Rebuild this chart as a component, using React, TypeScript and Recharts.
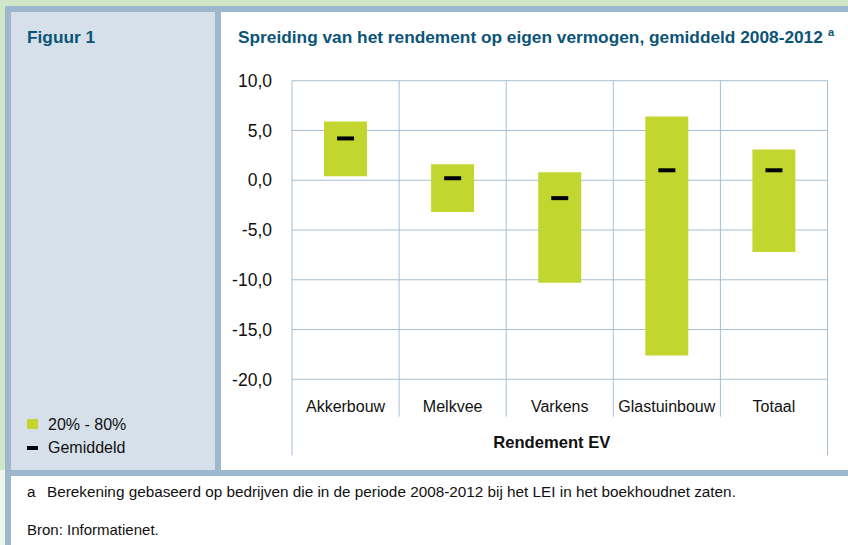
import React from 'react';
import { ComposedChart, Bar, Scatter, XAxis, YAxis, CartesianGrid } from 'recharts';

const categories = ['Akkerbouw', 'Melkvee', 'Varkens', 'Glastuinbouw', 'Totaal'];
const low20 = [0.4, -3.2, -10.3, -17.6, -7.2];
const high80 = [5.9, 1.6, 0.8, 6.4, 3.1];
const means = [4.2, 0.2, -1.8, 1.0, 1.0];
const yTicks = [-20, -15, -10, -5, 0, 5, 10];

const data = categories.map((name, i) => ({
  name,
  range: [low20[i], high80[i]],
  mean: means[i],
}));

const FONT = "'Liberation Sans', Arial, Helvetica, sans-serif";
const TITLE_COLOR = '#0b5477';
const BAR_COLOR = '#c3d62f';
const GRID_COLOR = '#a5bed3';
const BORDER = '#9db7cd';
const PANEL = '#d6e0ea';

const CategoryTick = (props: any) => {
  const { x, y, payload, index, width } = props;
  const n = categories.length;
  const half = (width ?? 535) / n / 2;
  const last = index === n - 1;
  return (
    <g>
      <line x1={x - half} x2={x - half} y1={y} y2={y + (index === 0 ? 76 : 37.4)} stroke={GRID_COLOR} strokeWidth={1} />
      {last && <line x1={x + half} x2={x + half} y1={y} y2={y + 76} stroke={GRID_COLOR} strokeWidth={1} />}
      <text x={x} y={y + 32.2} textAnchor="middle" fontFamily={FONT} fontSize={16} fill="#111">
        {payload.value}
      </text>
    </g>
  );
};

const AxisTitle = (props: any) => {
  const vb = props.viewBox || {};
  return (
    <text
      x={vb.x + vb.width / 2 - 8}
      y={vb.y + vb.height - 7.3}
      textAnchor="middle"
      fontFamily={FONT}
      fontWeight="bold"
      fontSize={16.6}
      fill="#111"
    >
      Rendement EV
    </text>
  );
};

const MeanMarker = (props: any) => {
  const { cx, cy } = props;
  if (cx == null || cy == null) return null;
  return <rect x={cx - 8.5} y={cy - 2} width={17} height={4} fill="#000" />;
};

export default function App() {
  return (
    <div style={{ position: 'absolute', left: 0, top: 0, width: 848, height: 545, overflow: 'hidden', background: '#cfe6c9' }}>
      <svg width={848} height={545} style={{ position: 'absolute', left: 0, top: 0 }}>
        <rect x={0} y={470} width={5} height={75} fill="#eef5ec" />
        <rect x={5} y={6} width={843} height={539} fill={BORDER} />
        <rect x={11} y={12} width={204} height={458} fill={PANEL} />
        <rect x={221} y={12} width={627} height={458} fill="#ffffff" />
        <rect x={11} y={476} width={837} height={69} fill="#ffffff" />
        <text x={27} y={43} fontFamily={FONT} fontWeight="bold" fontSize={17.3} fill={TITLE_COLOR}>Figuur 1</text>
        <text x={238} y={43} fontFamily={FONT} fontWeight="bold" fontSize={17.3} fill={TITLE_COLOR}>
          Spreiding van het rendement op eigen vermogen, gemiddeld 2008-2012
        </text>
        <text x={828} y={36} fontFamily={FONT} fontWeight="bold" fontSize={11} fill={TITLE_COLOR}>a</text>
        <rect x={27} y={419} width={11} height={10} fill={BAR_COLOR} />
        <text x={48} y={430} fontFamily={FONT} fontSize={16} fill="#111">20% - 80%</text>
        <rect x={27} y={446} width={11} height={4} fill="#000" />
        <text x={48} y={453} fontFamily={FONT} fontSize={16} fill="#111">Gemiddeld</text>
        <text x={27} y={497} fontFamily={FONT} fontSize={15.3} fill="#111">a</text>
        <text x={47} y={497} fontFamily={FONT} fontSize={15.3} fill="#111">
          Berekening gebaseerd op bedrijven die in de periode 2008-2012 bij het LEI in het boekhoudnet zaten.
        </text>
        <text x={27} y={535} fontFamily={FONT} fontSize={15} fill="#111">Bron: Informatienet.</text>
      </svg>
      <div style={{ position: 'absolute', left: 222, top: 60 }}>
        <ComposedChart
          width={626}
          height={400}
          data={data}
          margin={{ top: 20.7, right: 20.5, bottom: 4.7, left: 0 }}
        >
          <CartesianGrid
            stroke={GRID_COLOR}
            verticalCoordinatesGenerator={(args: any) => {
              const off = args.offset;
              const n = categories.length;
              return Array.from({ length: n + 1 }, (_, i) => off.left + (i * off.width) / n);
            }}
          />
          <XAxis
            dataKey="name"
            height={76}
            axisLine={false}
            tickLine={false}
            tickSize={0}
            tickMargin={0}
            interval={0}
            tick={<CategoryTick />}
            label={<AxisTitle />}
          />
          <YAxis
            width={70}
            domain={[-20, 10]}
            ticks={yTicks}
            axisLine={false}
            tickLine={false}
            tickSize={0}
            tickMargin={20}
            tickFormatter={(v: number) => v.toFixed(1).replace('.', ',')}
            tick={{ fontFamily: FONT, fontSize: 17.5, fill: '#111' }}
          />
          <Bar dataKey="range" fill={BAR_COLOR} barSize={43} isAnimationActive={false} />
          <Scatter dataKey="mean" shape={<MeanMarker />} isAnimationActive={false} />
        </ComposedChart>
      </div>
    </div>
  );
}
